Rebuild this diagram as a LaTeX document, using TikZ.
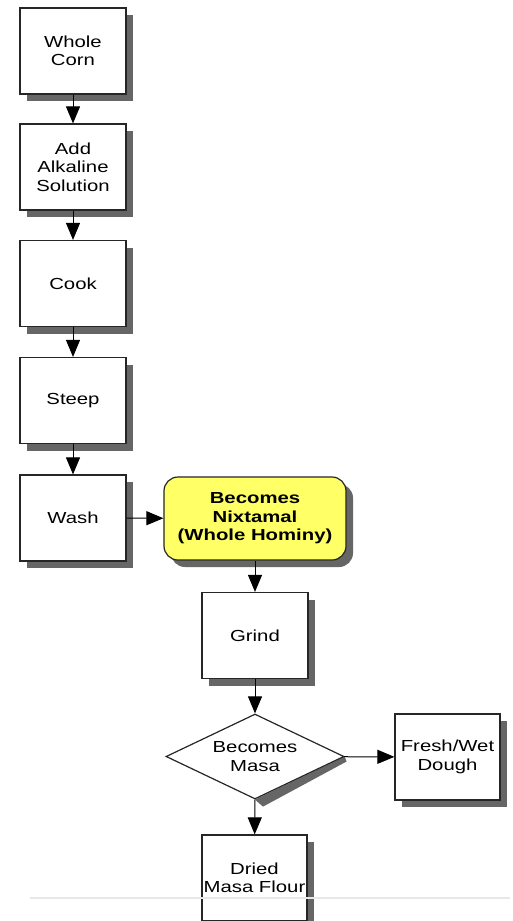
\documentclass[tikz,border=0pt]{standalone}
\usepackage{fontspec}
\setmainfont[FakeStretch=1.27]{Liberation Sans}
\usetikzlibrary{shapes.geometric,shadows,arrows.meta,calc,backgrounds}
\definecolor{nixyellow}{HTML}{FFFF66}
\definecolor{shadowgray}{HTML}{666666}
\begin{document}
\begin{tikzpicture}[x=1pt,y=-1pt,
  basefont/.style={font=\fontsize{16}{18.5}\selectfont},
  stepbox/.style={basefont,draw=black!85,line width=1.2pt,fill=white,
    minimum width=106pt,minimum height=86pt,align=center,inner sep=0pt,
    drop shadow={shadow xshift=7pt,shadow yshift=-7pt,opacity=1,fill=shadowgray}},
  nixbox/.style={stepbox,fill=nixyellow,rounded corners=14pt,
    minimum width=182pt,minimum height=83pt,font=\fontsize{16}{18.5}\selectfont\bfseries},
  decbox/.style={basefont,diamond,aspect=2.1,draw=black!85,line width=1.2pt,fill=white,
    minimum width=178pt,minimum height=85pt,inner sep=0pt,align=center},
  arr/.style={-{Triangle[length=17pt,width=14pt]},line width=1pt,black}]
\useasboundingbox (0,0) rectangle (513,921);

\node[stepbox] (wc) at (73,51) {Whole\\Corn};
\node[stepbox] (aas) at (73,167) {Add\\Alkaline\\Solution};
\node[stepbox] (cook) at (73,283.5) {Cook};
\node[stepbox] (steep) at (73,400.5) {Steep};
\node[stepbox] (wash) at (73,518) {Wash};
\node[nixbox] (nix) at (255,518.5) {Becomes\\Nixtamal\\(Whole Hominy)};
\node[stepbox] (grind) at (255,635.5) {Grind};
\node[decbox] (masa) at (255,756.5) {Becomes\\Masa};
\node[stepbox,minimum width=105pt] (fresh) at (447.5,757) {Fresh/Wet\\Dough};
\node[stepbox,minimum width=105pt] (dried) at (254.5,878) {Dried\\Masa Flour};

\begin{scope}[on background layer]
\fill[white] (0,0) rectangle (513,921);
\fill[shadowgray] (masa.east) -- (masa.south) -- ($(masa.south)+(8,7)$) -- ($(masa.east)+(2,5)$) -- cycle;
\end{scope}

\draw[arr] (wc) -- (aas);
\draw[arr] (aas) -- (cook);
\draw[arr] (cook) -- (steep);
\draw[arr] (steep) -- (wash);
\draw[arr] (wash) -- (nix);
\draw[arr] (nix) -- (grind);
\draw[arr] (grind) -- (masa);
\draw[arr] (masa) -- (fresh);
\draw[arr] (masa) -- (dried);

\draw[black!9,line width=2pt] (30,898) -- (510,898);
\end{tikzpicture}
\end{document}
